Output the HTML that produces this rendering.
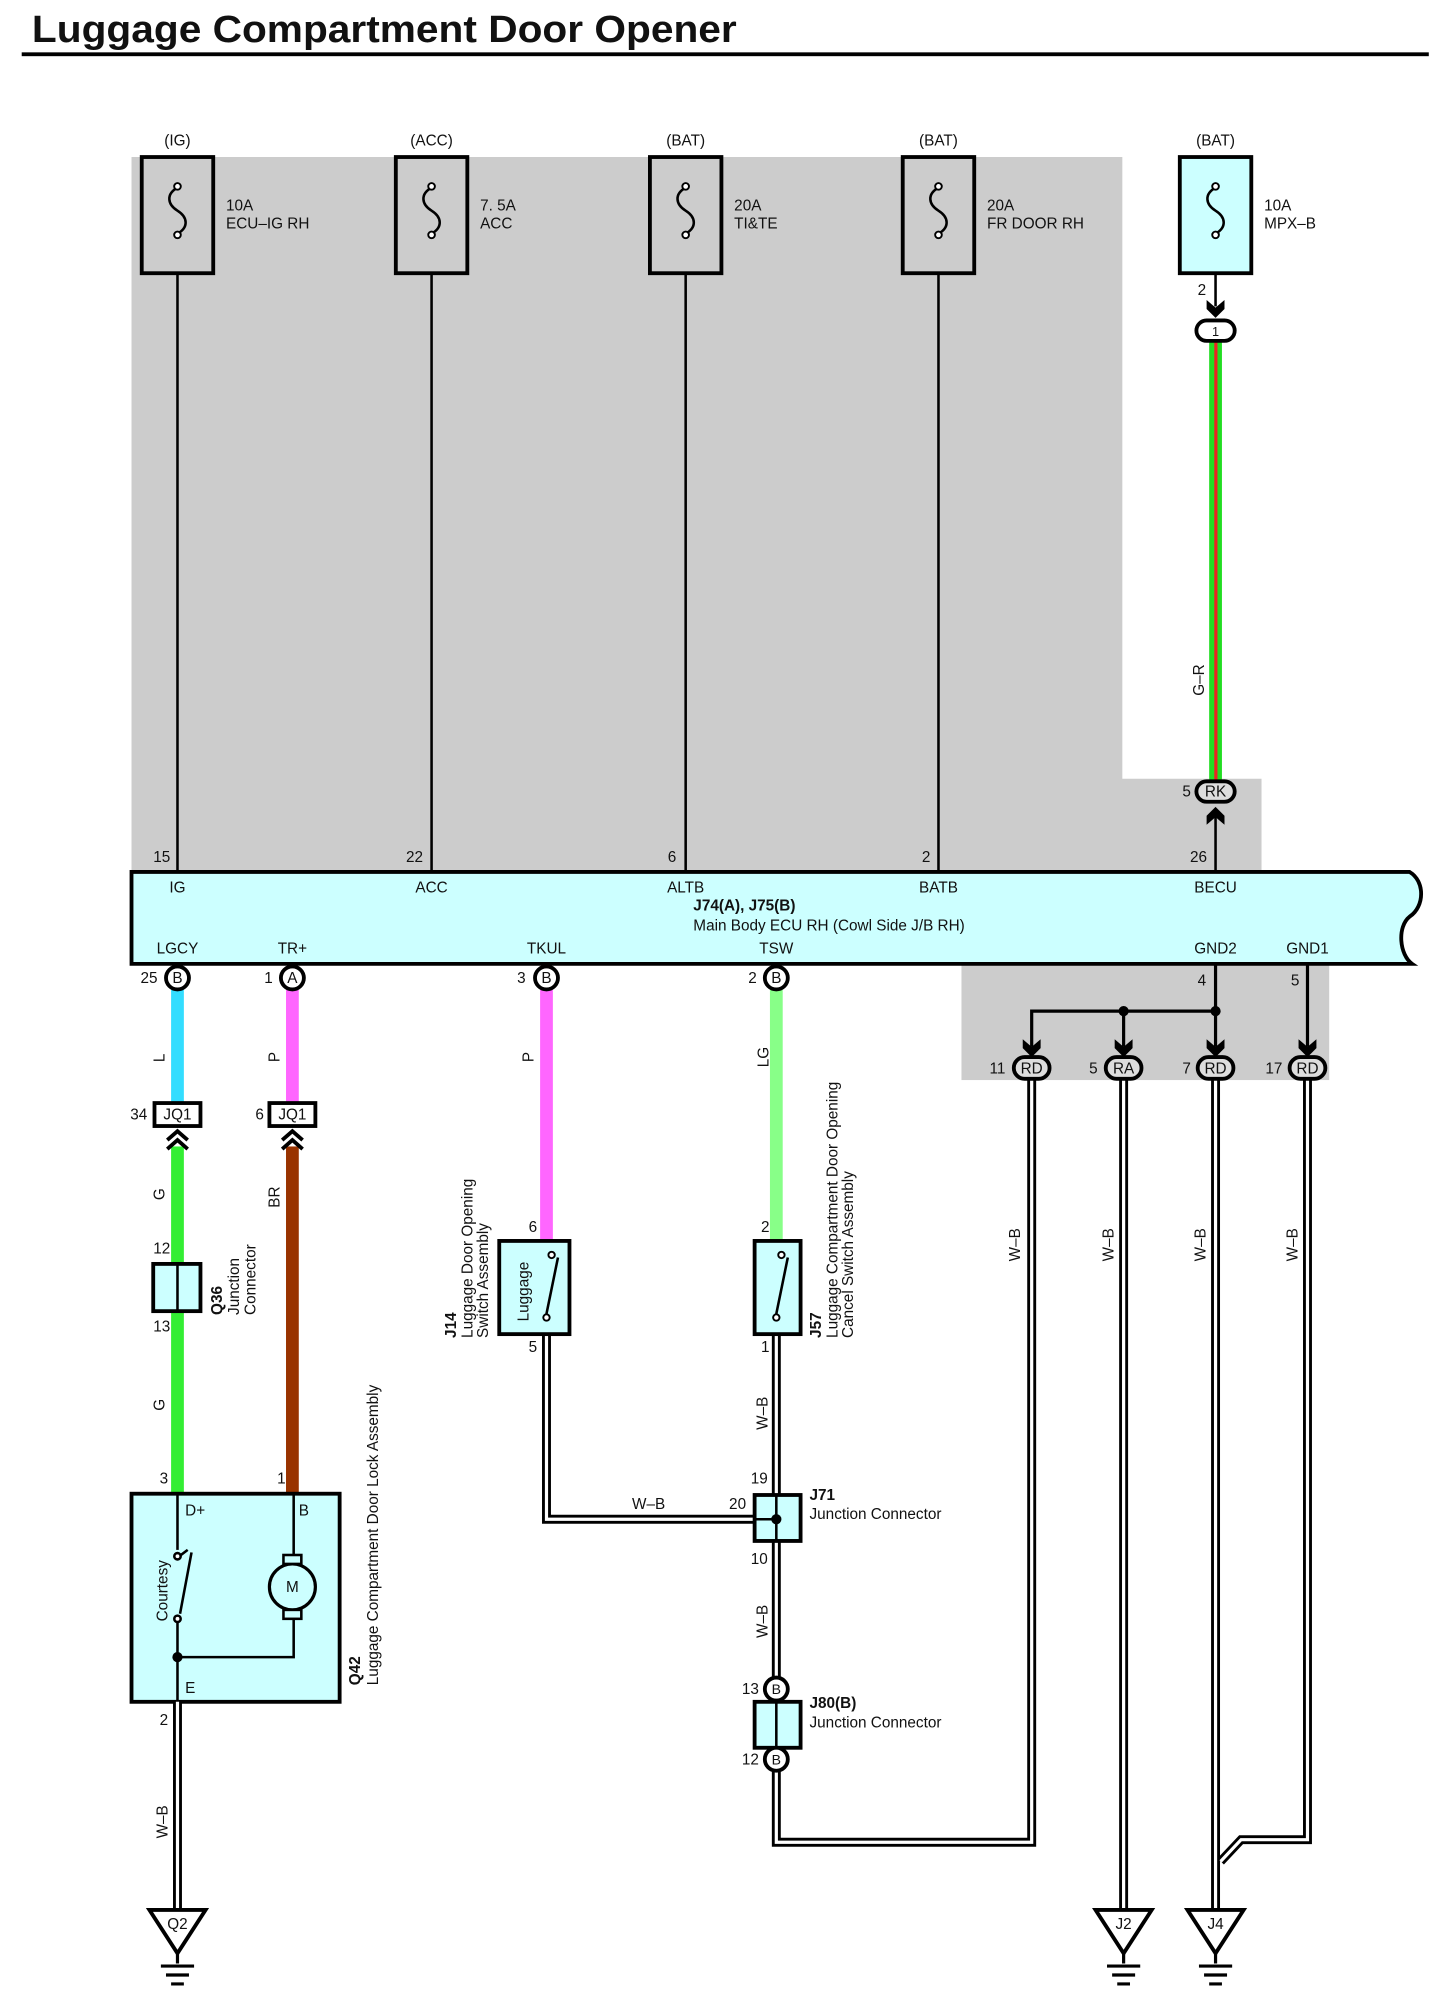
<!DOCTYPE html>
<html><head><meta charset="utf-8"><style>
html,body{margin:0;padding:0;background:#fff;}
svg{display:block;}
text{font-family:"Liberation Sans",sans-serif;font-size:12px;fill:#111;}
.b{font-weight:bold;}
</style></head><body>
<svg width="1439" height="1998" viewBox="0 0 1127 1565" preserveAspectRatio="none" xmlns="http://www.w3.org/2000/svg">
<defs>
<path id="ad" d="M-7,-10 L0,-4 L7,-10 L7,-3 L0,4 L-7,-3 Z" fill="#000"/>
<g id="fuse"><path d="M0,147 C-9,152 -8,160 0,165 C8,170 9,178 0,183" fill="none" stroke="#000" stroke-width="2"/><circle cx="0" cy="146" r="2.6" fill="#fff" stroke="#000" stroke-width="1.5"/><circle cx="0" cy="184" r="2.6" fill="#fff" stroke="#000" stroke-width="1.5"/></g>
</defs>
<text x="25" y="33" class="b" style="font-size:30px" textLength="552" lengthAdjust="spacingAndGlyphs">Luggage Compartment Door Opener</text>
<rect x="17" y="41" width="1102" height="3" fill="#000"/>
<path d="M103,123 H879 V610 H988 V683 H103 Z" fill="#cccccc"/>
<rect x="753" y="755" width="288" height="91" fill="#cccccc"/>
<g stroke="#000" stroke-width="2">
<line x1="139" y1="214" x2="139" y2="683"/><line x1="338" y1="214" x2="338" y2="683"/>
<line x1="537" y1="214" x2="537" y2="683"/><line x1="735" y1="214" x2="735" y2="683"/>
<line x1="952" y1="214" x2="952" y2="240"/><line x1="952" y1="636" x2="952" y2="683"/>
</g>
<g fill="none" stroke="#000" stroke-width="3">
<rect x="111" y="123" width="56" height="91"/><rect x="310" y="123" width="56" height="91"/>
<rect x="509" y="123" width="56" height="91"/><rect x="707" y="123" width="56" height="91"/>
<rect x="924" y="123" width="56" height="91" fill="#ccffff"/>
</g>
<use href="#fuse" x="139"/><use href="#fuse" x="338"/><use href="#fuse" x="537"/><use href="#fuse" x="735"/><use href="#fuse" x="952"/>
<g text-anchor="middle"><text x="139" y="114">(IG)</text><text x="338" y="114">(ACC)</text><text x="537" y="114">(BAT)</text><text x="735" y="114">(BAT)</text><text x="952" y="114">(BAT)</text></g>
<text x="177" y="165">10A</text><text x="177" y="179">ECU–IG RH</text>
<text x="376" y="165">7. 5A</text><text x="376" y="179">ACC</text>
<text x="575" y="165">20A</text><text x="575" y="179">TI&amp;TE</text>
<text x="773" y="165">20A</text><text x="773" y="179">FR DOOR RH</text>
<text x="990" y="165">10A</text><text x="990" y="179">MPX–B</text>
<text x="120" y="675">15</text><text x="318" y="675">22</text><text x="523" y="675">6</text><text x="722" y="675">2</text><text x="932" y="675">26</text>
<text x="938" y="231">2</text>
<use href="#ad" x="952" y="245"/>
<rect x="947" y="266" width="10" height="346" fill="#22dd22"/><rect x="951" y="266" width="2.5" height="346" fill="#ee2222"/>
<rect x="937" y="251" width="30" height="16" rx="8" fill="#fff" stroke="#000" stroke-width="3"/><text x="952" y="263" text-anchor="middle" style="font-size:10px">1</text>
<text transform="translate(943,545) rotate(-90)">G–R</text>
<rect x="937" y="612" width="30" height="16" rx="8" fill="#ddd" stroke="#000" stroke-width="3"/><text x="952" y="624" text-anchor="middle">RK</text><text x="926" y="624">5</text>
<use href="#ad" x="952" y="636" transform="rotate(180 952 636)"/>
<path d="M103,683 H1104 C1116,690 1116,710 1104,718 C1094,726 1096,748 1106,755 H103 Z" fill="#ccffff" stroke="#000" stroke-width="3"/>
<g text-anchor="middle"><text x="139" y="699">IG</text><text x="338" y="699">ACC</text><text x="537" y="699">ALTB</text><text x="735" y="699">BATB</text><text x="952" y="699">BECU</text>
<text x="139" y="747">LGCY</text><text x="229" y="747">TR+</text><text x="428" y="747">TKUL</text><text x="608" y="747">TSW</text><text x="952" y="747">GND2</text><text x="1024" y="747">GND1</text></g>
<text x="543" y="713" class="b">J74(A), J75(B)</text><text x="543" y="729">Main Body ECU RH (Cowl Side J/B RH)</text>
<rect x="134" y="775" width="10" height="90" fill="#33ddff"/>
<rect x="224" y="775" width="10" height="90" fill="#ff66ff"/>
<rect x="423" y="775" width="10" height="197" fill="#ff66ff"/>
<rect x="603" y="775" width="10" height="197" fill="#88ff88"/>
<rect x="134" y="898" width="10" height="272" fill="#33ee33"/>
<rect x="224" y="898" width="10" height="272" fill="#993300"/>
<g fill="#fff" stroke="#000" stroke-width="3">
<circle cx="139" cy="766" r="9"/><circle cx="229" cy="766" r="9"/><circle cx="428" cy="766" r="9"/><circle cx="608" cy="766" r="9"/></g>
<g text-anchor="middle" style="font-size:11px"><text x="139" y="770">B</text><text x="229" y="770">A</text><text x="428" y="770">B</text><text x="608" y="770">B</text></g>
<text x="110" y="770">25</text><text x="207" y="770">1</text><text x="405" y="770">3</text><text x="586" y="770">2</text>
<g transform="rotate(-90)"><text x="-832" y="129">L</text><text x="-832" y="219">P</text><text x="-832" y="418">P</text><text x="-836" y="602">LG</text>
<text x="-940" y="129">G</text><text x="-946" y="219">BR</text><text x="-1105" y="129">G</text></g>
<rect x="121" y="864" width="36" height="18" fill="#fff" stroke="#000" stroke-width="3"/><text x="139" y="877" text-anchor="middle">JQ1</text><text x="102" y="877">34</text>
<rect x="211" y="864" width="36" height="18" fill="#fff" stroke="#000" stroke-width="3"/><text x="229" y="877" text-anchor="middle">JQ1</text><text x="200" y="877">6</text>
<g fill="none" stroke="#000" stroke-width="3"><path d="M131,893 L139,886 L147,893 M131,900 L139,893 L147,900"/><path d="M221,893 L229,886 L237,893 M221,900 L229,893 L237,900"/></g>
<rect x="120" y="990" width="37" height="37" fill="#ccffff" stroke="#000" stroke-width="3"/><line x1="139" y1="990" x2="139" y2="1027" stroke="#000" stroke-width="2"/>
<text x="120" y="982">12</text><text x="120" y="1043">13</text>
<g transform="rotate(-90)"><text x="-1030" y="174" class="b">Q36</text><text x="-1030" y="187">Junction</text><text x="-1030" y="200">Connector</text>
<text x="-1320" y="282" class="b">Q42</text><text x="-1320" y="296">Luggage Compartment Door Lock Assembly</text></g>
<text x="125" y="1162">3</text><text x="217" y="1162">1</text>
<rect x="103" y="1170" width="163" height="163" fill="#ccffff" stroke="#000" stroke-width="3"/>
<text x="145" y="1187">D+</text><text x="234" y="1187">B</text><text x="145" y="1326">E</text>
<g stroke="#000" stroke-width="2" fill="none"><line x1="139" y1="1170" x2="139" y2="1214"/><line x1="139" y1="1220" x2="147" y2="1214"/><line x1="141" y1="1264" x2="150" y2="1216"/>
<line x1="139" y1="1270" x2="139" y2="1333"/><polyline points="139,1298 230,1298 230,1268"/><line x1="230" y1="1170" x2="230" y2="1218"/>
<circle cx="139" cy="1219" r="2.5" fill="#fff"/><circle cx="139" cy="1268" r="2.5" fill="#fff"/>
<circle cx="229" cy="1243" r="18" fill="#ccffff" stroke-width="2.5"/><rect x="222" y="1218" width="14" height="7" fill="#ccffff"/><rect x="222" y="1261" width="14" height="7" fill="#ccffff"/></g>
<circle cx="139" cy="1298" r="4" fill="#000"/>
<text x="229" y="1247" text-anchor="middle">M</text>
<text transform="translate(131,1270) rotate(-90)">Courtesy</text>
<g fill="none" stroke="#000" stroke-width="7">
<line x1="139" y1="1333" x2="139" y2="1496"/>
<polyline points="428,1045 428,1190 608,1190"/>
<line x1="608" y1="1045" x2="608" y2="1315"/>
<polyline points="608,1387 608,1443 808,1443 808,846"/>
<line x1="880" y1="846" x2="880" y2="1496"/>
<line x1="952" y1="846" x2="952" y2="1496"/>
<polyline points="1024,846 1024,1441 972,1441 956,1458"/>
</g>
<g fill="none" stroke="#fff" stroke-width="2.5">
<line x1="139" y1="1333" x2="139" y2="1496"/>
<polyline points="428,1045 428,1190 606,1190"/>
<line x1="608" y1="1045" x2="608" y2="1315"/>
<polyline points="608,1387 608,1443 808,1443 808,846"/>
<line x1="880" y1="846" x2="880" y2="1496"/>
<line x1="952" y1="846" x2="952" y2="1496"/>
<polyline points="1024,846 1024,1441 972,1441 956,1458"/>
</g>
<text x="125" y="1351">2</text>
<g transform="rotate(-90)"><text x="-1440" y="131">W–B</text><text x="-1120" y="601">W–B</text><text x="-1283" y="601">W–B</text>
<text x="-988" y="799">W–B</text><text x="-988" y="872">W–B</text><text x="-988" y="944">W–B</text><text x="-988" y="1016">W–B</text></g>
<text x="495" y="1182">W–B</text><text x="571" y="1182">20</text><text x="588" y="1162">19</text><text x="588" y="1225">10</text>
<rect x="391" y="972" width="55" height="73" fill="#ccffff" stroke="#000" stroke-width="3"/>
<line x1="428" y1="1029" x2="437" y2="985" stroke="#000" stroke-width="2"/>
<circle cx="432" cy="983" r="2.5" fill="#fff" stroke="#000" stroke-width="1.5"/><circle cx="428" cy="1032" r="2.5" fill="#fff" stroke="#000" stroke-width="1.5"/>
<text transform="translate(414,1035) rotate(-90)">Luggage</text>
<text x="414" y="965">6</text><text x="414" y="1059">5</text>
<g transform="rotate(-90)"><text x="-1048" y="357" class="b">J14</text><text x="-1048" y="370">Luggage Door Opening</text><text x="-1048" y="382">Switch Assembly</text>
<text x="-1048" y="643" class="b">J57</text><text x="-1048" y="656">Luggage Compartment Door Opening</text><text x="-1048" y="668">Cancel Switch Assembly</text></g>
<rect x="591" y="972" width="36" height="73" fill="#ccffff" stroke="#000" stroke-width="3"/>
<line x1="608" y1="1029" x2="617" y2="985" stroke="#000" stroke-width="2"/>
<circle cx="612" cy="983" r="2.5" fill="#fff" stroke="#000" stroke-width="1.5"/><circle cx="608" cy="1032" r="2.5" fill="#fff" stroke="#000" stroke-width="1.5"/>
<text x="596" y="965">2</text><text x="596" y="1059">1</text>
<rect x="591" y="1171" width="36" height="36" fill="#ccffff" stroke="#000" stroke-width="3"/>
<line x1="608" y1="1171" x2="608" y2="1207" stroke="#000" stroke-width="2"/><line x1="591" y1="1190" x2="608" y2="1190" stroke="#000" stroke-width="2"/>
<circle cx="608" cy="1190" r="4" fill="#000"/>
<text x="634" y="1175" class="b">J71</text><text x="634" y="1190">Junction Connector</text>
<rect x="591" y="1333" width="36" height="36" fill="#ccffff" stroke="#000" stroke-width="3"/>
<line x1="608" y1="1333" x2="608" y2="1369" stroke="#000" stroke-width="2"/>
<circle cx="608" cy="1323" r="9" fill="#fff" stroke="#000" stroke-width="3"/><circle cx="608" cy="1378" r="9" fill="#fff" stroke="#000" stroke-width="3"/>
<text x="608" y="1327" text-anchor="middle" style="font-size:11px">B</text><text x="608" y="1382" text-anchor="middle" style="font-size:11px">B</text>
<text x="581" y="1327">13</text><text x="581" y="1382">12</text>
<text x="634" y="1338" class="b">J80(B)</text><text x="634" y="1353">Junction Connector</text>
<g stroke="#000" stroke-width="2.5" fill="none"><line x1="952" y1="755" x2="952" y2="820"/><line x1="1024" y1="755" x2="1024" y2="820"/>
<polyline points="808,820 808,792 952,792"/><line x1="880" y1="792" x2="880" y2="820"/></g>
<circle cx="880" cy="792" r="4" fill="#000"/><circle cx="952" cy="792" r="4" fill="#000"/>
<text x="938" y="772">4</text><text x="1011" y="772">5</text>
<use href="#ad" x="808" y="824"/><use href="#ad" x="880" y="824"/><use href="#ad" x="952" y="824"/><use href="#ad" x="1024" y="824"/>
<g fill="#ddd" stroke="#000" stroke-width="3"><rect x="794" y="828" width="28" height="17" rx="8.5"/><rect x="866" y="828" width="28" height="17" rx="8.5"/><rect x="938" y="828" width="28" height="17" rx="8.5"/><rect x="1010" y="828" width="28" height="17" rx="8.5"/></g>
<g text-anchor="middle"><text x="808" y="841">RD</text><text x="880" y="841">RA</text><text x="952" y="841">RD</text><text x="1024" y="841">RD</text></g>
<text x="775" y="841">11</text><text x="853" y="841">5</text><text x="926" y="841">7</text><text x="991" y="841">17</text>
<g fill="#fff" stroke="#000" stroke-width="3">
<path d="M117,1496 H161 L139,1530 Z"/><path d="M858,1496 H902 L880,1530 Z"/><path d="M930,1496 H974 L952,1530 Z"/></g>
<g stroke="#000" stroke-width="2.5">
<path d="M139,1530 V1538 M126,1540 H152 M130,1547 H148 M134,1554 H144"/>
<path d="M880,1530 V1538 M867,1540 H893 M871,1547 H889 M875,1554 H885"/>
<path d="M952,1530 V1538 M939,1540 H965 M943,1547 H961 M947,1554 H957"/></g>
<g text-anchor="middle" style="font-size:11px"><text x="139" y="1511">Q2</text><text x="880" y="1511">J2</text><text x="952" y="1511">J4</text></g>
</svg>
</body></html>
